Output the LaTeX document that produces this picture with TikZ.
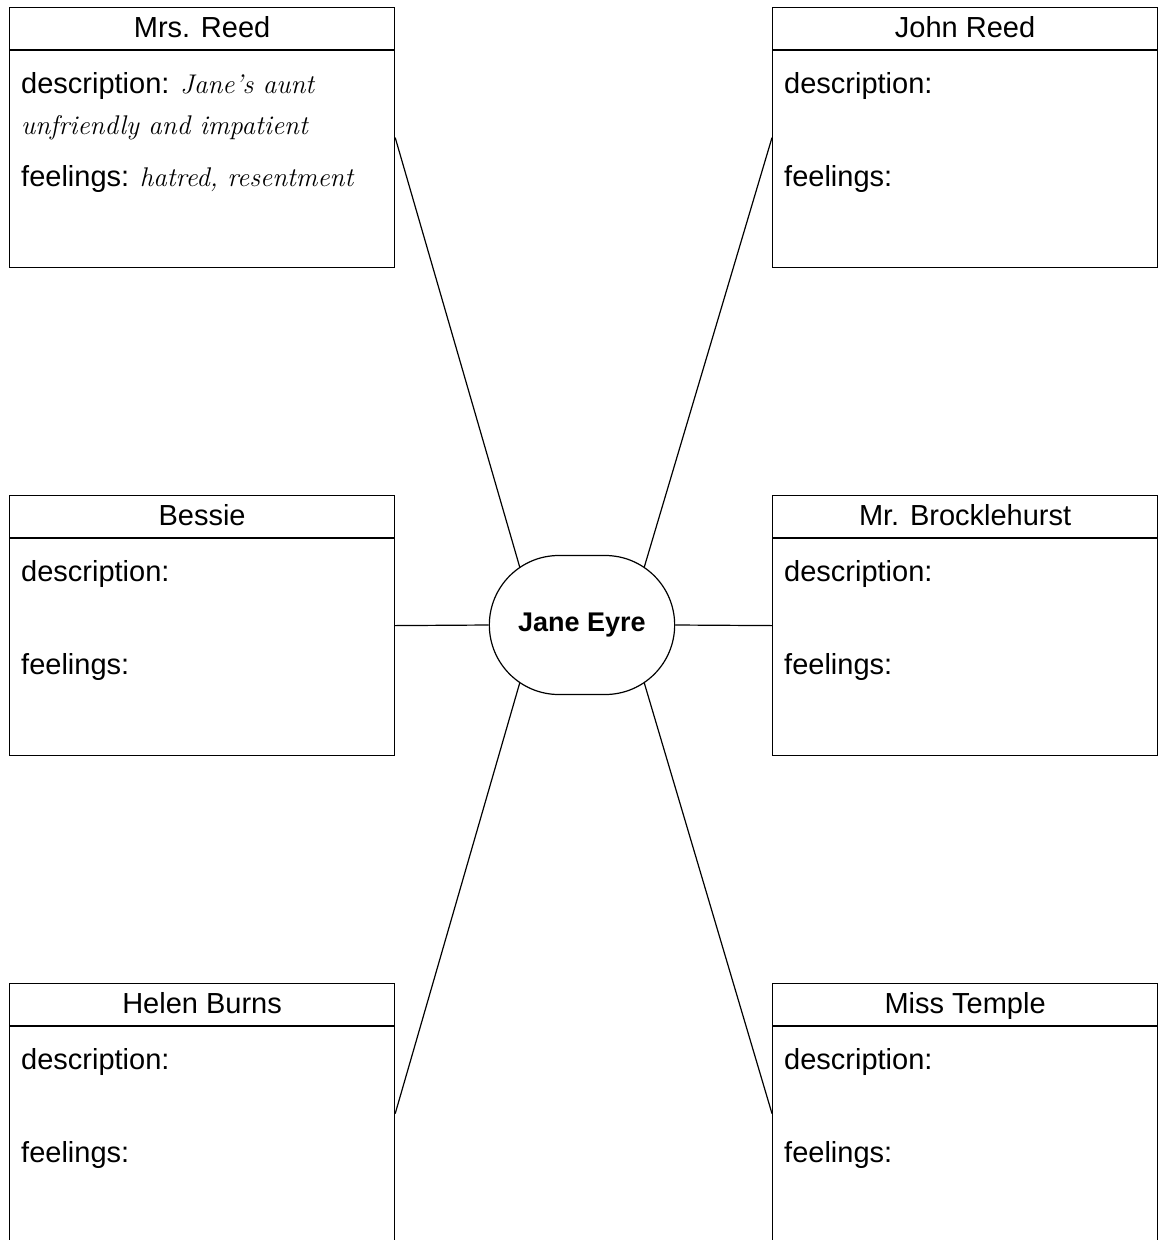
\documentclass[tikz,border=0pt]{standalone}
\usepackage{fontspec}
\newfontfamily\labelfont{Liberation Sans}
\usetikzlibrary{shapes.misc,calc}

\newcommand{\handtext}{\normalfont\itshape\fontsize{27}{32}\selectfont}

\tikzset{
  charbox/.style={draw, line width=1.2pt, anchor=north west,
    minimum width=385pt, minimum height=260pt, inner sep=0pt},
  titleline/.style={line width=1.2pt},
  boxtitle/.style={anchor=base, inner sep=0pt,
    font=\labelfont\fontsize{29}{34}\selectfont},
  boxtext/.style={anchor=base west, inner sep=0pt,
    font=\labelfont\fontsize{29}{34}\selectfont},
  link/.style={line width=1.2pt}
}

\begin{document}
\begin{tikzpicture}[x=1pt, y=-1pt]
  \useasboundingbox (0,0) rectangle (1158,1240);

  % centre
  \node [draw, line width=1.2pt, rounded rectangle, minimum width=192pt,
    minimum height=139pt, font=\labelfont\bfseries\fontsize{27}{32}\selectfont]
    (jane) at (582, 625) {Jane Eyre};

  % Mrs. Reed
  \node [charbox] (mrsreed) at (9, 7) {};
  \draw [titleline] ($(mrsreed.north west)+(0,43)$) -- ($(mrsreed.north east)+(0,43)$);
  \node [boxtitle] (mrsreedtitle) at ($(mrsreed.north)+(0,30)$) {Mrs. Reed};
  \node [boxtext] (mrsreeddesc) at ($(mrsreed.north west)+(12,86)$)
    {description: {\handtext Jane’s aunt}};
  \node [boxtext] (mrsreeddesctwo) at ($(mrsreed.north west)+(12,127)$)
    {\handtext unfriendly and impatient};
  \node [boxtext] (mrsreedfeel) at ($(mrsreed.north west)+(12,179)$)
    {feelings: {\handtext hatred, resentment}};

  % John Reed
  \node [charbox] (johnreed) at (772, 7) {};
  \draw [titleline] ($(johnreed.north west)+(0,43)$) -- ($(johnreed.north east)+(0,43)$);
  \node [boxtitle] (johnreedtitle) at ($(johnreed.north)+(0,30)$) {John Reed};
  \node [boxtext] (johnreeddesc) at ($(johnreed.north west)+(12,86)$) {description:};
  \node [boxtext] (johnreedfeel) at ($(johnreed.north west)+(12,179)$) {feelings:};

  % Bessie
  \node [charbox] (bessie) at (9, 495) {};
  \draw [titleline] ($(bessie.north west)+(0,43)$) -- ($(bessie.north east)+(0,43)$);
  \node [boxtitle] (bessietitle) at ($(bessie.north)+(0,30)$) {Bessie};
  \node [boxtext] (bessiedesc) at ($(bessie.north west)+(12,86)$) {description:};
  \node [boxtext] (bessiefeel) at ($(bessie.north west)+(12,179)$) {feelings:};

  % Mr. Brocklehurst
  \node [charbox] (brocklehurst) at (772, 495) {};
  \draw [titleline] ($(brocklehurst.north west)+(0,43)$) -- ($(brocklehurst.north east)+(0,43)$);
  \node [boxtitle] (brocklehursttitle) at ($(brocklehurst.north)+(0,30)$) {Mr. Brocklehurst};
  \node [boxtext] (brocklehurstdesc) at ($(brocklehurst.north west)+(12,86)$) {description:};
  \node [boxtext] (brocklehurstfeel) at ($(brocklehurst.north west)+(12,179)$) {feelings:};

  % Helen Burns
  \node [charbox] (helen) at (9, 983) {};
  \draw [titleline] ($(helen.north west)+(0,43)$) -- ($(helen.north east)+(0,43)$);
  \node [boxtitle] (helentitle) at ($(helen.north)+(0,30)$) {Helen Burns};
  \node [boxtext] (helendesc) at ($(helen.north west)+(12,86)$) {description:};
  \node [boxtext] (helenfeel) at ($(helen.north west)+(12,179)$) {feelings:};

  % Miss Temple
  \node [charbox] (temple) at (772, 983) {};
  \draw [titleline] ($(temple.north west)+(0,43)$) -- ($(temple.north east)+(0,43)$);
  \node [boxtitle] (templetitle) at ($(temple.north)+(0,30)$) {Miss Temple};
  \node [boxtext] (templedesc) at ($(temple.north west)+(12,86)$) {description:};
  \node [boxtext] (templefeel) at ($(temple.north west)+(12,179)$) {feelings:};

  % links
  \draw [link] (mrsreed.east) -- (jane.137);
  \draw [link] (johnreed.west) -- (jane.43);
  \draw [link] (bessie.east) -- (jane.west);
  \draw [link] (brocklehurst.west) -- (jane.east);
  \draw [link] (helen.east) -- (jane.223);
  \draw [link] (temple.west) -- (jane.317);
\end{tikzpicture}
\end{document}
